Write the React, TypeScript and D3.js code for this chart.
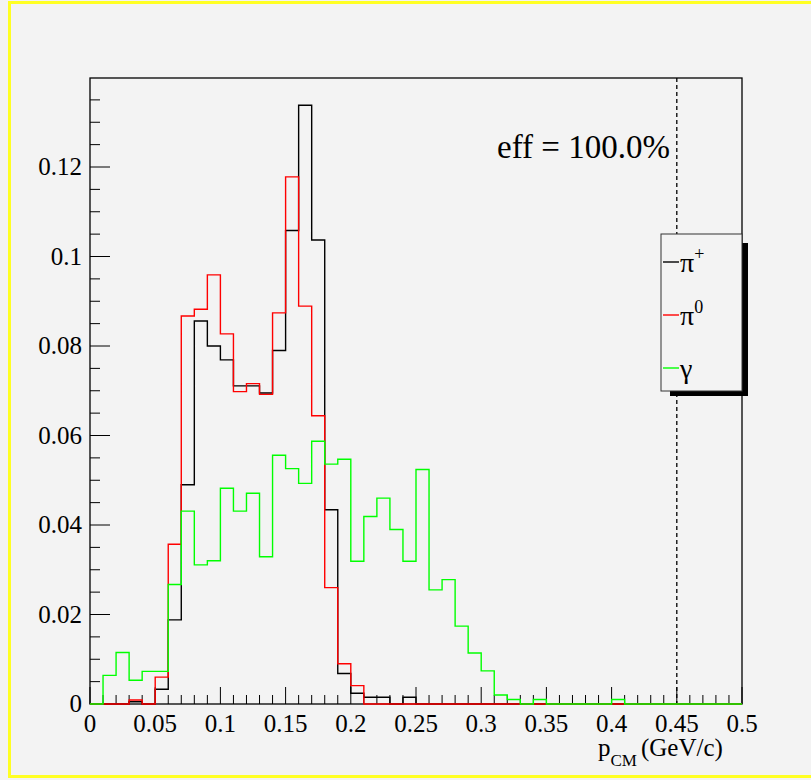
import React from "react";
import * as d3 from "d3";

const binEdges = d3.range(0, 51).map((i) => i / 100);
const piPlus = [0,0,0,0.0005,0,0.0033,0.0188,0.049,0.0856,0.080,0.0769,0.0711,0.0711,0.0695,0.079,0.1058,0.1338,0.1037,0.0434,0.0068,0.0024,0.0015,0.0015,0,0.0015,0,0,0,0,0,0,0,0,0,0,0,0,0,0,0,0,0,0,0,0,0,0,0,0,0];
const piZero = [0,0,0,0.0009,0,0.006,0.0357,0.0867,0.0882,0.0959,0.0827,0.0698,0.0716,0.0692,0.0874,0.1178,0.0889,0.0644,0.026,0.009,0.0041,0,0,0,0,0,0,0,0,0,0,0,0,0,0,0,0,0,0,0,0,0,0,0,0,0,0,0,0,0];
const gamma = [0,0.0064,0.0115,0.0053,0.0073,0.0073,0.0267,0.0431,0.0311,0.032,0.0482,0.0431,0.0471,0.0329,0.0556,0.0526,0.0493,0.0587,0.0536,0.0547,0.0319,0.0419,0.046,0.039,0.0319,0.0524,0.0255,0.0278,0.0174,0.0114,0.0074,0.002,0.001,0,0.001,0,0,0,0,0,0.001,0,0,0,0,0,0,0,0,0];
const xTicks = [0,0.05,0.1,0.15,0.2,0.25,0.3,0.35,0.4,0.45,0.5];
const xTickLabels = ["0","0.05","0.1","0.15","0.2","0.25","0.3","0.35","0.4","0.45","0.5"];
const yTicks = [0,0.02,0.04,0.06,0.08,0.1,0.12];
const yTickLabels = ["0","0.02","0.04","0.06","0.08","0.1","0.12"];
const series = [
  { name: "π", sup: "+", values: piPlus, color: "#000000" },
  { name: "π", sup: "0", values: piZero, color: "#ff0000" },
  { name: "γ", sup: "", values: gamma, color: "#00ff00" },
];
const cutLine = 0.45;

const L = 90, R = 742, T = 78, B = 704;
const font = "Liberation Serif, Times New Roman, DejaVu Serif, serif";

export default function App() {
  const x = d3.scaleLinear().domain([0, 0.5]).range([L, R]);
  const y = d3.scaleLinear().domain([0, 0.12]).range([B, B - 6 * 89.5]);
  const stepPath = (vals: number[]) => {
    let p = "";
    vals.forEach((v, i) => {
      const x0 = x(binEdges[i]), x1 = x(binEdges[i + 1]), yy = y(v);
      p += (i === 0 ? `M${x0},${yy}` : `L${x0},${yy}`) + `L${x1},${yy}`;
    });
    return p;
  };
  const xMinor = d3.range(0, 51).map((i) => i / 100);
  const yMinor = d3.range(0, 28).map((i) => i * 0.005);
  return (
    <svg width={811} height={780} style={{ position: "absolute", left: 0, top: 0 }}>
      <rect x={0} y={0} width={811} height={780} fill="#f3f3f3" />
      <rect x={9.5} y={2.5} width={830} height={774} fill="none" stroke="#ffff22" strokeWidth={3} />
      <rect x={L} y={T} width={R - L} height={B - T} fill="#f3f3f3" stroke="#000" strokeWidth={1.3} />
      {xMinor.map((t, i) => (
        <line key={"xm" + i} x1={x(t)} x2={x(t)} y1={B} y2={B - (i % 5 === 0 ? 17 : 9)} stroke="#000" strokeWidth={1} />
      ))}
      {yMinor.map((t, i) => (
        <line key={"ym" + i} x1={L} x2={L + (i % 4 === 0 ? 20 : 10)} y1={y(t)} y2={y(t)} stroke="#000" strokeWidth={1} />
      ))}
      {xTicks.map((t, i) => (
        <text key={"xl" + i} x={x(t)} y={B + 28} textAnchor="middle" fontFamily={font} fontSize={25}>{xTickLabels[i]}</text>
      ))}
      {yTicks.map((t, i) => (
        <text key={"yl" + i} x={L - 8} y={y(t) + 8} textAnchor="end" fontFamily={font} fontSize={25}>{yTickLabels[i]}</text>
      ))}
      <line x1={x(cutLine)} x2={x(cutLine)} y1={T} y2={B} stroke="#000" strokeWidth={1.3} strokeDasharray="4,3" />
      {[series[0], series[1], series[2]].map((s, i) => (
        <path key={i} d={stepPath(s.values)} fill="none" stroke={s.color} strokeWidth={1.4} />
      ))}
      <text x={497} y={158} fontFamily={font} fontSize={33}>eff = 100.0%</text>
      <text x={598} y={756} fontFamily={font} fontSize={25}>p<tspan fontSize={17} dy={10}>CM</tspan><tspan dy={-10} dx={4}>(GeV/c)</tspan></text>
      <rect x={670} y={243} width={78} height={153} fill="#000" />
      <rect x={661} y={234} width={81} height={157} fill="#f3f3f3" stroke="#333" strokeWidth={1} />
      {series.map((s, i) => (
        <g key={"lg" + i}>
          <line x1={663} x2={679} y1={262 + i * 53} y2={262 + i * 53} stroke={s.color} strokeWidth={1.4} />
          <text x={680} y={272 + i * 53} fontFamily={font} fontSize={28}>{s.name}{s.sup && <tspan fontSize={18} dy={-12}>{s.sup}</tspan>}</text>
        </g>
      ))}
    </svg>
  );
}
